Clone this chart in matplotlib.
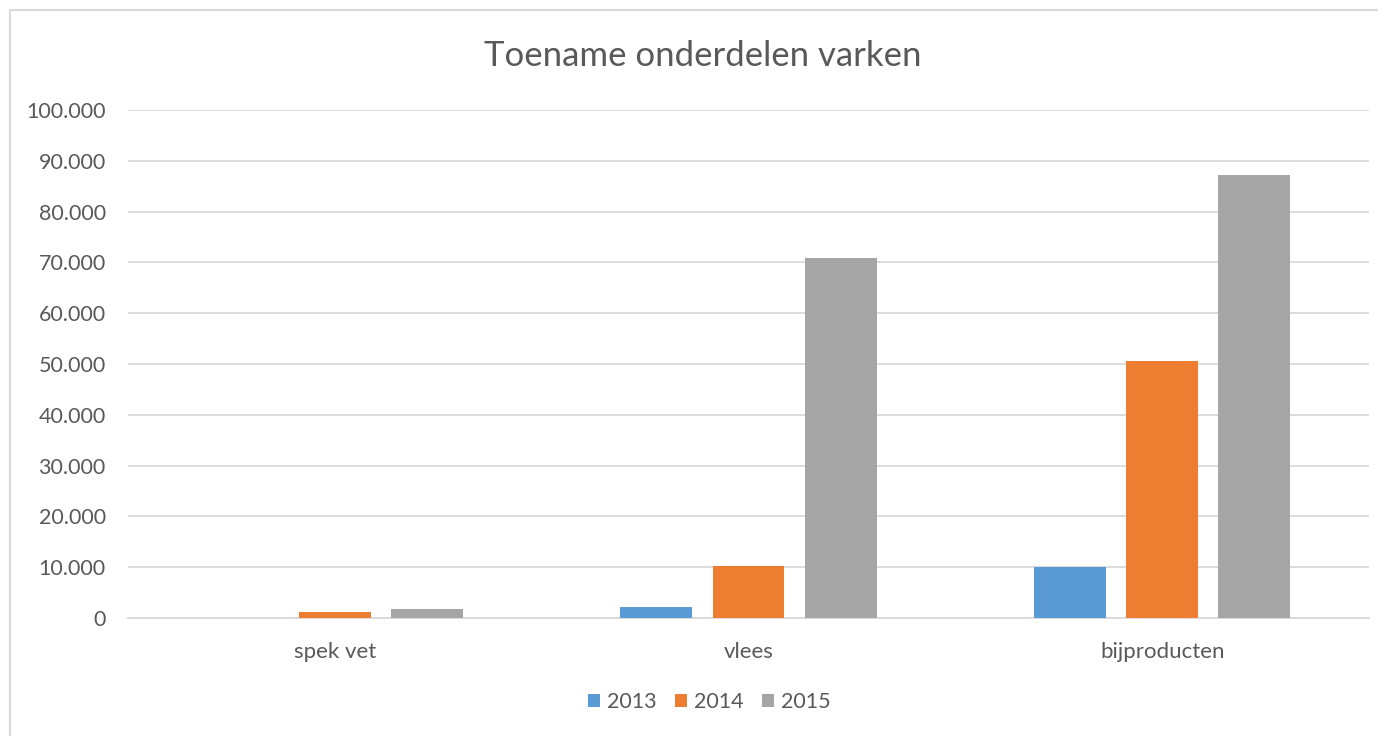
import matplotlib
matplotlib.use("Agg")
import matplotlib.pyplot as plt
import numpy as np
from matplotlib.patches import Rectangle
from matplotlib.ticker import FuncFormatter

categories = ["spek vet", "vlees", "bijproducten"]
series_names = ["2013", "2014", "2015"]
values_2013 = [0, 2200, 10000]
values_2014 = [1200, 10200, 50600]
values_2015 = [1700, 70900, 87200]
colors = ["#5B9BD5", "#ED7D31", "#A5A5A5"]
yticks = list(range(0, 100001, 10000))

plt.rcParams['font.family'] = ['Lato', 'DejaVu Sans']

W, H = 1378, 736
fig = plt.figure(figsize=(W / 100, H / 100), dpi=100)
fig.patch.set_facecolor("white")

# chart border
fig.patches.append(Rectangle((10 / W, -0.05), 1.2, 1 - 10 / H + 0.05, transform=fig.transFigure,
                             fill=False, edgecolor="#d9d9d9", linewidth=1.5))

ax = fig.add_axes([128 / W, 1 - 618 / H, (1369 - 128) / W, (618 - 110) / H])
x = np.arange(len(categories))
w = 0.174
step = 0.2225
for i, (name, vals) in enumerate(zip(series_names, [values_2013, values_2014, values_2015])):
    ax.bar(x + (i - 1) * step, vals, width=w, color=colors[i], label=name, zorder=3)

ax.set_xlim(-0.5, len(categories) - 0.5)
ax.set_ylim(0, 100000)
ax.set_yticks(yticks)
ax.yaxis.set_major_formatter(FuncFormatter(lambda v, p: f"{int(v):,}".replace(",", ".")))
ax.grid(axis="y", color="#d9d9d9", linewidth=1.3, zorder=0)
ax.set_xticks(x)
ax.set_xticklabels(categories)
for s in ["top", "right", "left"]:
    ax.spines[s].set_visible(False)
ax.spines["bottom"].set_color("#d9d9d9")
ax.spines["bottom"].set_linewidth(1.3)
ax.tick_params(axis="both", length=0, colors="#595959")
ax.tick_params(axis="y", pad=16, labelsize=15.5)
ax.tick_params(axis="x", pad=17, labelsize=16)

fig.text(703 / W, 1 - 56 / H, "Toename onderdelen varken", ha="center", va="center",
         fontsize=25, color="#595959")

fig.legend(loc="center", bbox_to_anchor=(709 / W, 1 - 702 / H), ncol=3, frameon=False,
           fontsize=15.5, handlelength=0.58, handleheight=0.58, handletextpad=0.3,
           columnspacing=0.85, labelcolor="#595959")

fig.savefig("out.png", dpi=100)
